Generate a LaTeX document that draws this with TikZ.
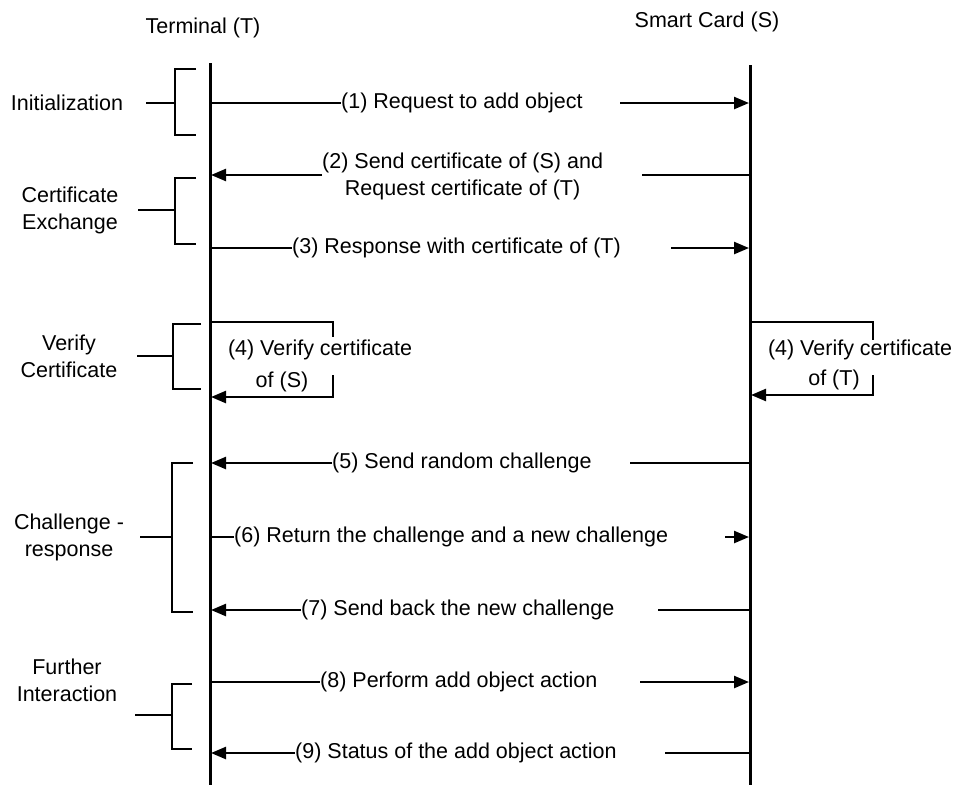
\documentclass[tikz,border=0pt]{standalone}
\usepackage{fontspec}
\setmainfont{Liberation Sans}
\usetikzlibrary{arrows.meta}
\begin{document}
\begin{tikzpicture}[x=1pt,y=-1pt,
  txt/.style={font=\fontsize{21.5}{27}\selectfont, inner sep=0pt, align=center},
  lifeline/.style={line width=3pt},
  link/.style={line width=2.4pt},
  tip/.style={-{Triangle[length=15pt,width=12pt]}},
  brace/.style={line width=2.4pt}]
\useasboundingbox (0,0) rectangle (958,785);

% participants and lifelines
\node[txt] (hT) at (203,28) {Terminal (T)};
\node[txt] (hS) at (707,22) {Smart Card (S)};
\coordinate (tTop) at (210,63);  \coordinate (tBot) at (210,785);
\coordinate (sTop) at (750,65);  \coordinate (sBot) at (750,785);
\draw[lifeline] (tTop) -- (tBot);
\draw[lifeline] (sTop) -- (sBot);

% (1) T -> S
\node[txt,anchor=west] (m1) at (341,103) {(1) Request to add object};
\coordinate (t1) at (210,103); \coordinate (r1) at (620,103); \coordinate (s1) at (749,103);
\draw[link] (t1) -- (m1.west);
\draw[link,tip] (r1) -- (s1);

% (2) S -> T
\node[txt,anchor=west] (m2) at (322,176) {(2) Send certificate of (S) and\\Request certificate of (T)};
\coordinate (t2) at (211,175); \coordinate (r2) at (642,175); \coordinate (s2) at (750,175);
\draw[link,tip] (m2.west |- t2) -- (t2);
\draw[link] (r2) -- (s2);

% (3) T -> S
\node[txt,anchor=west] (m3) at (292,248) {(3) Response with certificate of (T)};
\coordinate (t3) at (210,248); \coordinate (r3) at (671,248); \coordinate (s3) at (749,248);
\draw[link] (t3) -- (m3.west);
\draw[link,tip] (r3) -- (s3);

% (4) local verification on the terminal
\node[txt] (v4a) at (320,350) {(4) Verify certificate};
\node[txt] (v4b) at (282,382) {of (S)};
\coordinate (t4a) at (210,322); \coordinate (t4k) at (333,337);
\coordinate (t4m) at (333,375); \coordinate (t4b) at (211,397);
\draw[link] (t4a) -| (t4k);
\draw[link,tip] (t4m) |- (t4b);

% (4) local verification on the card
\node[txt] (w4a) at (860,350) {(4) Verify certificate};
\node[txt] (w4b) at (834,380) {of (T)};
\coordinate (s4a) at (750,322); \coordinate (s4k) at (873,340);
\coordinate (s4m) at (873,375); \coordinate (s4b) at (751,395);
\draw[link] (s4a) -| (s4k);
\draw[link,tip] (s4m) |- (s4b);

% (5) S -> T
\node[txt,anchor=west] (m5) at (332,463) {(5) Send random challenge};
\coordinate (t5) at (211,463); \coordinate (r5) at (630,463); \coordinate (s5) at (750,463);
\draw[link,tip] (m5.west) -- (t5);
\draw[link] (r5) -- (s5);

% (6) T -> S
\node[txt,anchor=west] (m6) at (234,537) {(6) Return the challenge and a new challenge};
\coordinate (t6) at (210,537); \coordinate (r6) at (725,537); \coordinate (s6) at (749,537);
\draw[link] (t6) -- (m6.west);
\draw[link,tip] (r6) -- (s6);

% (7) S -> T
\node[txt,anchor=west] (m7) at (301,610) {(7) Send back the new challenge};
\coordinate (t7) at (211,610); \coordinate (r7) at (658,610); \coordinate (s7) at (750,610);
\draw[link,tip] (m7.west) -- (t7);
\draw[link] (r7) -- (s7);

% (8) T -> S
\node[txt,anchor=west] (m8) at (320,682) {(8) Perform add object action};
\coordinate (t8) at (210,682); \coordinate (r8) at (640,682); \coordinate (s8) at (749,682);
\draw[link] (t8) -- (m8.west);
\draw[link,tip] (r8) -- (s8);

% (9) S -> T
\node[txt,anchor=west] (m9) at (295,753) {(9) Status of the add object action};
\coordinate (t9) at (211,753); \coordinate (r9) at (665,753); \coordinate (s9) at (750,753);
\draw[link,tip] (m9.west) -- (t9);
\draw[link] (r9) -- (s9);

% phase brackets
\node[txt] (pInit) at (67,103) {Initialization};
\coordinate (bInitA) at (196,69); \coordinate (bInitB) at (196,135);
\coordinate (bInitS) at (146,103); \coordinate (bInitV) at (175,103);
\draw[brace] (bInitA) -- (175,69) -- (175,135) -- (bInitB);
\draw[brace] (bInitS) -- (bInitV);

\node[txt] (pCert) at (70,210) {Certificate\\Exchange};
\coordinate (bCertA) at (196,178); \coordinate (bCertB) at (196,244);
\coordinate (bCertS) at (138,210); \coordinate (bCertV) at (175,210);
\draw[brace] (bCertA) -- (175,178) -- (175,244) -- (bCertB);
\draw[brace] (bCertS) -- (bCertV);

\node[txt] (pVer) at (69,356) {Verify\\Certificate};
\coordinate (bVerA) at (201,324); \coordinate (bVerB) at (201,389);
\coordinate (bVerS) at (137,356); \coordinate (bVerV) at (173,356);
\draw[brace] (bVerA) -- (173,324) -- (173,389) -- (bVerB);
\draw[brace] (bVerS) -- (bVerV);

\node[txt] (pChal) at (69,537) {Challenge -\\response};
\coordinate (bChalA) at (193,463); \coordinate (bChalB) at (193,612);
\coordinate (bChalS) at (140,537); \coordinate (bChalV) at (172,537);
\draw[brace] (bChalA) -- (172,463) -- (172,612) -- (bChalB);
\draw[brace] (bChalS) -- (bChalV);

\node[txt] (pFur) at (67,680) {Further\\Interaction};
\coordinate (bFurA) at (192,684); \coordinate (bFurB) at (192,749);
\coordinate (bFurS) at (135,715); \coordinate (bFurV) at (172,715);
\draw[brace] (bFurA) -- (172,684) -- (172,749) -- (bFurB);
\draw[brace] (bFurS) -- (bFurV);
\end{tikzpicture}
\end{document}
